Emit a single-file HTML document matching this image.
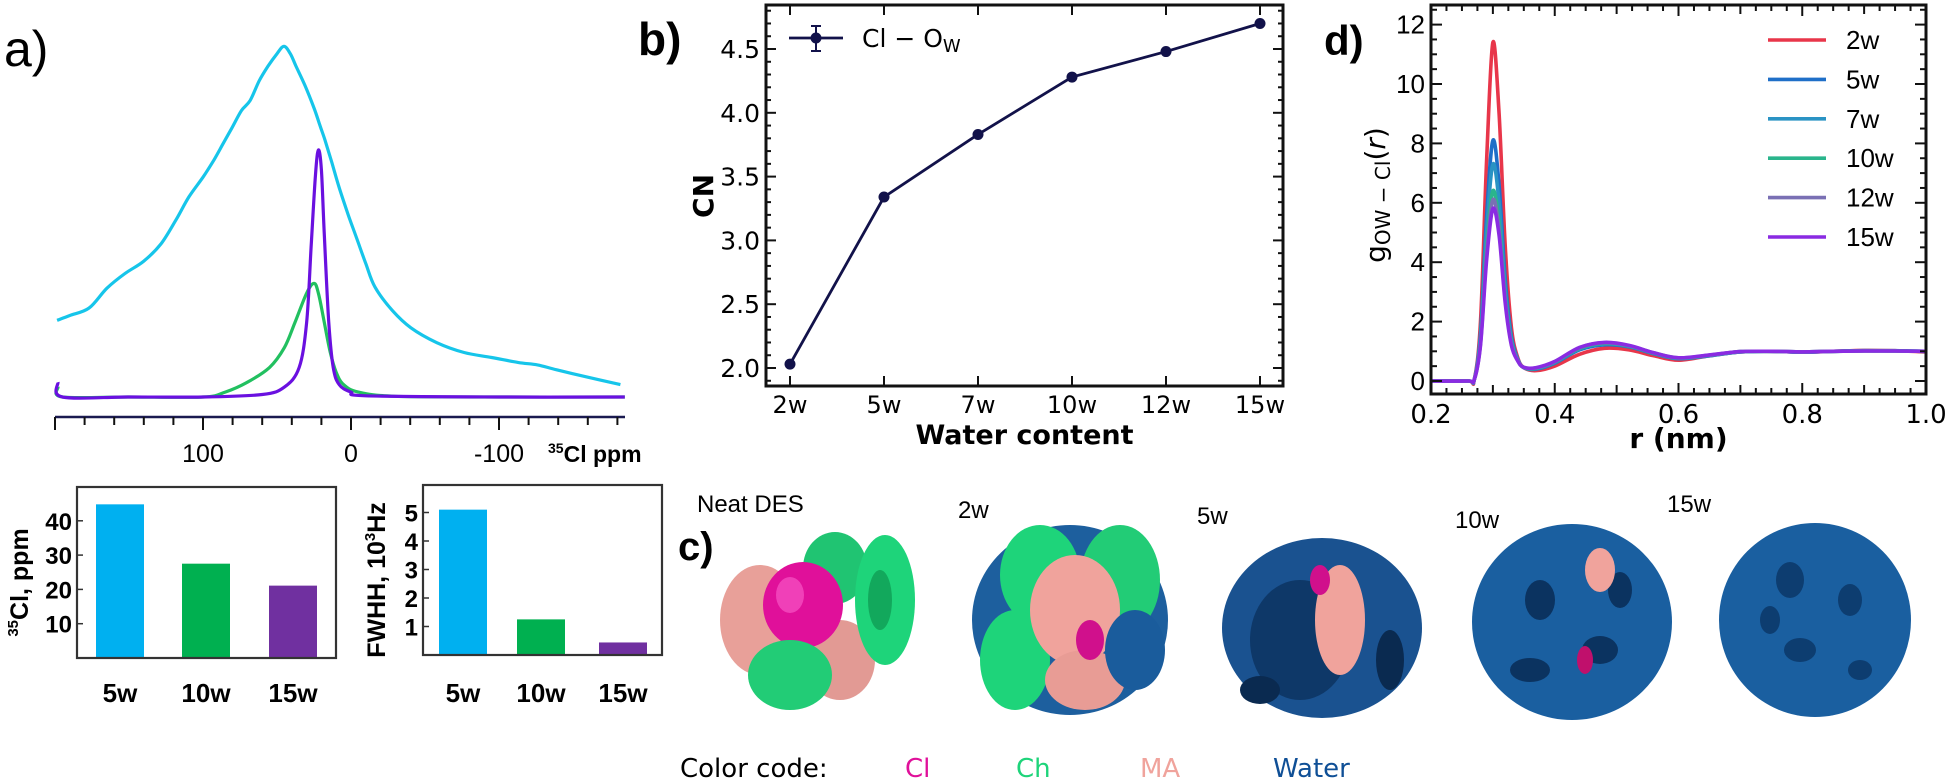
<!DOCTYPE html>
<html><head><meta charset="utf-8">
<style>
html,body{margin:0;padding:0;background:#fff;}
svg{display:block;}
text{font-family:"DejaVu Sans","Liberation Sans",sans-serif;}
.cond{font-family:"Liberation Sans",sans-serif;}
</style></head>
<body>
<svg id="fig" xmlns="http://www.w3.org/2000/svg" width="1949" height="783" viewBox="0 0 1949 783">
  <!-- panel labels -->
  <text x="4" y="66" font-size="50" class="cond">a)</text>
  <text x="638" y="55" font-size="46" font-weight="bold" class="cond">b)</text>
  <text x="1324" y="55" font-size="42" font-weight="bold" class="cond">d)</text>
  <text x="678" y="560" font-size="40" font-weight="bold" class="cond">c)</text>

  <g id="spec"></g>
  <g id="bar1"></g>
  <g id="bar2"></g>
  <g id="cn"></g>
  <g id="rdf"></g>

  <!-- panel c: 3D density snapshots -->
  <g>
    <text x="697" y="512" font-size="24" class="cond">Neat DES</text>
    <text x="958" y="518" font-size="24" class="cond">2w</text>
    <text x="1197" y="524" font-size="24" class="cond">5w</text>
    <text x="1455" y="528" font-size="24" class="cond">10w</text>
    <text x="1667" y="512" font-size="24" class="cond">15w</text>

    <g>
      <ellipse cx="760" cy="620" rx="40" ry="55" fill="#e8a099"/>
      <ellipse cx="840" cy="660" rx="35" ry="40" fill="#e29a94"/>
      <ellipse cx="835" cy="568" rx="32" ry="36" fill="#20c472"/>
      <ellipse cx="885" cy="600" rx="30" ry="65" fill="#1ed47a"/>
      <ellipse cx="880" cy="600" rx="12" ry="30" fill="#12a85c"/>
      <ellipse cx="803" cy="605" rx="40" ry="43" fill="#e0109a"/>
      <ellipse cx="790" cy="595" rx="14" ry="18" fill="#f040b8"/>
      <ellipse cx="790" cy="675" rx="42" ry="35" fill="#22cc76"/>
    </g>
    <g>
      <ellipse cx="1070" cy="620" rx="98" ry="95" fill="#1d5f9e"/>
      <ellipse cx="1040" cy="575" rx="40" ry="50" fill="#1ed47a"/>
      <ellipse cx="1120" cy="580" rx="40" ry="55" fill="#22cc76"/>
      <ellipse cx="1015" cy="660" rx="35" ry="50" fill="#1ed47a"/>
      <ellipse cx="1075" cy="610" rx="45" ry="55" fill="#f0a39c"/>
      <ellipse cx="1085" cy="680" rx="40" ry="30" fill="#e89c95"/>
      <ellipse cx="1090" cy="640" rx="14" ry="20" fill="#d0108c"/>
      <ellipse cx="1135" cy="650" rx="30" ry="40" fill="#1a5c9c"/>
    </g>
    <g>
      <ellipse cx="1322" cy="628" rx="100" ry="90" fill="#1a5290"/>
      <ellipse cx="1300" cy="640" rx="50" ry="60" fill="#0e3868"/>
      <ellipse cx="1340" cy="620" rx="25" ry="55" fill="#f0a39c"/>
      <ellipse cx="1320" cy="580" rx="10" ry="15" fill="#d0108c"/>
      <ellipse cx="1260" cy="690" rx="20" ry="14" fill="#0a2a50"/>
      <ellipse cx="1390" cy="660" rx="14" ry="30" fill="#0a2a50"/>
    </g>
    <g>
      <ellipse cx="1572" cy="622" rx="100" ry="98" fill="#1a5fa0"/>
      <ellipse cx="1540" cy="600" rx="15" ry="20" fill="#0b3360"/>
      <ellipse cx="1600" cy="650" rx="18" ry="14" fill="#0b3360"/>
      <ellipse cx="1530" cy="670" rx="20" ry="12" fill="#0b3360"/>
      <ellipse cx="1620" cy="590" rx="12" ry="18" fill="#0b3360"/>
      <ellipse cx="1600" cy="570" rx="15" ry="22" fill="#f0a39c"/>
      <ellipse cx="1585" cy="660" rx="8" ry="14" fill="#c0106c"/>
    </g>
    <g>
      <ellipse cx="1815" cy="620" rx="96" ry="97" fill="#1a5fa0"/>
      <ellipse cx="1790" cy="580" rx="14" ry="18" fill="#0d3d70"/>
      <ellipse cx="1850" cy="600" rx="12" ry="16" fill="#0d3d70"/>
      <ellipse cx="1800" cy="650" rx="16" ry="12" fill="#0d3d70"/>
      <ellipse cx="1860" cy="670" rx="12" ry="10" fill="#0d3d70"/>
      <ellipse cx="1770" cy="620" rx="10" ry="14" fill="#0d3d70"/>
    </g>
    <text x="680" y="777" font-size="26">Color code:</text>
    <text x="905" y="777" font-size="26" fill="#e0109a">Cl</text>
    <text x="1016" y="777" font-size="26" fill="#1ed47a">Ch</text>
    <text x="1140" y="777" font-size="26" fill="#f0a39c">MA</text>
    <text x="1273" y="777" font-size="26" fill="#0f4f96">Water</text>
  </g>
</svg>

<script>
// ---------- DATA ----------
// Panel a: 35Cl NMR spectrum (ppm, arbitrary intensity)
const specPpm5w = [198.6,190,177,165,152.7,140,128.4,118,109.5,100,92.6,86,80.4,74,68.2,62,56,50,45.3,41,37.2,31,25,21,17.6,13,8.1,2,-4,-10,-16.2,-28,-40.5,-58,-76.4,-95,-112.8,-126,-139,-160,-182];
const specInt5w = [31,33,36,44,50,55,62,72,81,89,96,103,109,116,120,128,134,139,142,139,134,126,117,110,104,95,85,74,64,54,44.5,35,28,22,18,16,14,13,11,8,5];
const specPpm10w = [198,195,150,100,85,70,55,45,38,30,25,22,18,14,10,5,-5,-30,-100,-185];
const specInt10w = [4,0,0,0,2,6,12,20,30,42,46,42,30,18,10,5,2,0.3,0,0];
const specPpm15w = [198,195,150,100,60,45,35,30,27,24,22,20,18,15,12,8,0,-10,-100,-185];
const specInt15w = [6,0,0,0,1,4,12,30,60,90,100,92,65,30,12,5,2,0.5,0,0];
const specTicksMajor = [200,100,0,-100];
const specTickLabels = ["","100","0","-100"];

// Bar charts
const barCats = ["5w","10w","15w"];
const shiftVals = [44.8,27.5,21.1];
const shiftTicks = [10,20,30,40];
const fwhhVals = [5.1,1.25,0.44];
const fwhhTicks = [1,2,3,4,5];
const barColors = ["#00b0f0","#00b050","#7030a0"];

// Panel b: coordination number
const cnCats = ["2w","5w","7w","10w","12w","15w"];
const cnVals = [2.03,3.34,3.83,4.28,4.48,4.70];
const cnErr = [0.02,0.03,0.015,0.015,0.015,0.02];
const cnTicks = [2.0,2.5,3.0,3.5,4.0,4.5];

// Panel d: RDF
const rdfR = [0.2,0.26,0.27,0.28,0.29,0.30,0.31,0.32,0.33,0.34,0.35,0.37,0.40,0.44,0.48,0.52,0.56,0.60,0.65,0.70,0.75,0.80,0.85,0.90,0.95,1.0];
const g2w  = [0,0,0.05,2.0,7.5,11.4,9.0,4.5,1.8,0.8,0.45,0.35,0.5,0.9,1.1,1.05,0.85,0.7,0.85,0.98,1.0,0.97,1.0,1.03,1.02,0.98];
const g5w  = [0,0,0.05,1.6,5.6,8.1,6.6,3.4,1.5,0.75,0.45,0.4,0.6,1.05,1.22,1.15,0.92,0.75,0.85,0.98,1.0,0.97,1.0,1.02,1.02,1.0];
const g7w  = [0,0,0.05,1.5,5.1,7.3,6.0,3.1,1.4,0.72,0.45,0.42,0.62,1.08,1.25,1.17,0.93,0.76,0.86,0.98,1.0,0.97,1.0,1.02,1.01,1.0];
const g10w = [0,0,0.05,1.3,4.5,6.4,5.3,2.8,1.3,0.7,0.45,0.43,0.64,1.1,1.27,1.18,0.94,0.77,0.87,0.99,1.0,0.98,1.0,1.01,1.01,1.0];
const g12w = [0,0,0.05,1.25,4.3,6.1,5.1,2.7,1.25,0.7,0.46,0.44,0.65,1.12,1.29,1.19,0.95,0.78,0.87,0.99,1.0,0.98,1.0,1.01,1.01,1.0];
const g15w = [0,0,0.05,1.2,4.1,5.8,4.9,2.6,1.2,0.68,0.46,0.45,0.66,1.13,1.3,1.2,0.95,0.78,0.88,0.99,1.0,0.98,1.0,1.01,1.01,1.0];
const rdfNames = ["2w","5w","7w","10w","12w","15w"];
const rdfXTicks = [0.2,0.4,0.6,0.8,1.0];
const rdfYTicks = [0,2,4,6,8,10,12];

// ---------- helpers ----------
const NS = "http://www.w3.org/2000/svg";
function el(tag, parent, attrs){
  const e = document.createElementNS(NS, tag);
  for (const k in attrs) e.setAttribute(k, attrs[k]);
  parent.appendChild(e);
  return e;
}
function smoothPath(pts){
  let d = "M" + pts[0][0].toFixed(1) + "," + pts[0][1].toFixed(1);
  for (let i = 0; i < pts.length - 1; i++){
    const p0 = pts[Math.max(i-1,0)], p1 = pts[i], p2 = pts[i+1], p3 = pts[Math.min(i+2,pts.length-1)];
    const c1 = [p1[0]+(p2[0]-p0[0])/6, p1[1]+(p2[1]-p0[1])/6];
    const c2 = [p2[0]-(p3[0]-p1[0])/6, p2[1]-(p3[1]-p1[1])/6];
    d += " C" + c1[0].toFixed(1)+","+c1[1].toFixed(1)+" "+c2[0].toFixed(1)+","+c2[1].toFixed(1)+" "+p2[0].toFixed(1)+","+p2[1].toFixed(1);
  }
  return d;
}

// ---------- Panel a spectrum ----------
(function(){
  const g = document.getElementById("spec");
  const xS = p => 55 + (200 - p) * 1.48;
  const yS = v => 397 - v * 2.47;
  const ax = el("line", g, {x1:55, x2:625, y1:417, y2:417, stroke:"#1a1a50", "stroke-width":2.5});
  
  
  for (let p = 200; p >= -180; p -= 20){
    const major = specTicksMajor.indexOf(p) >= 0;
    const t = el("line", g, {x1:xS(p), x2:xS(p), y1:417, y2:417 + (major ? 13 : 8), stroke:"#111", "stroke-width":2});
    
    
  }
  specTicksMajor.forEach((p, i) => {
    if (!specTickLabels[i]) return;
    const t = el("text", g, {x:xS(p), y:462, "font-size":25, "text-anchor":"middle", "class":"cond"});
    t.textContent = specTickLabels[i];
    
    
  });
  const lab = el("text", g, {x:548, y:462, "font-size":23, "font-weight":"bold", "class":"cond"});
  lab.innerHTML = '<tspan font-size="14" dy="-9">35</tspan><tspan dy="9">Cl ppm</tspan>';
  
  
  const series = [[specPpm5w, specInt5w, "#16c5ea", "spectrum-5w"],[specPpm10w, specInt10w, "#22c060", "spectrum-10w"],[specPpm15w, specInt15w, "#6a10e0", "spectrum-15w"]];
  series.forEach(s => {
    const pts = s[0].map((p, i) => [xS(p), yS(s[1][i])]);
    const path = el("path", g, {d:smoothPath(pts), fill:"none", stroke:s[2], "stroke-width":3.2, "stroke-linejoin":"round"});
    
    
  });
})();

// ---------- bar charts ----------
function barChart(id, frame, vals, ticks, unitPx, centers, ylabelHtml, nameBase){
  const g = document.getElementById(id);
  const y0 = frame.y2;
  const yS = v => y0 - v * unitPx;
  vals.forEach((v, i) => {
    const b = el("rect", g, {x:centers[i]-24, y:yS(v), width:48, height:y0 - yS(v), fill:barColors[i]});
    
    
    const t = el("text", g, {x:centers[i], y:702, "font-size":26, "font-weight":"bold", "text-anchor":"middle", "class":"cond"});
    t.textContent = barCats[i];
    
    
  });
  const f = el("rect", g, {x:frame.x1, y:frame.y1, width:frame.x2-frame.x1, height:frame.y2-frame.y1, fill:"none", stroke:"#333", "stroke-width":2.2});
  
  
  ticks.forEach(v => {
    const tk = el("line", g, {x1:frame.x1, x2:frame.x1+6, y1:yS(v), y2:yS(v), stroke:"#333", "stroke-width":1.5});
    
    
    const t = el("text", g, {x:frame.x1-5, y:yS(v)+9, "font-size":24, "font-weight":"bold", "text-anchor":"end", "class":"cond"});
    t.textContent = v;
    
    
  });
  const yl = el("text", g, {x:0, y:0, "font-size":25, "font-weight":"bold", "text-anchor":"middle", "class":"cond", transform:"translate(" + frame.labX + "," + ((frame.y1+frame.y2)/2+10) + ") rotate(-90)"});
  yl.innerHTML = ylabelHtml;
  
  
}
barChart("bar1", {x1:77, x2:336, y1:487, y2:658, labX:28}, shiftVals, shiftTicks, 3.43, [120,206,293],
  '<tspan font-size="15" dy="-10">35</tspan><tspan dy="10">Cl, ppm</tspan>', 'shift');
barChart("bar2", {x1:423, x2:662, y1:485, y2:655, labX:385}, fwhhVals, fwhhTicks, 28.5, [463,541,623],
  'FWHH, 10<tspan font-size="15" dy="-10">3</tspan><tspan dy="10">Hz</tspan>', 'fwhh');

// ---------- Panel b ----------
(function(){
  const g = document.getElementById("cn");
  const L = 766, R = 1283, T = 5, B = 386;
  const xS = i => 790 + i * 94;
  const yS = v => 368 - (v - 2.0) * 127.6;
  for (let v = 1.9; v <= 4.85; v += 0.1){
    const vv = Math.round(v*10)/10;
    const major = Math.abs(vv*2 - Math.round(vv*2)) < 1e-6;
    const len = major ? 10 : 5;
    [[L, L+len],[R, R-len]].forEach(p => {
      const t = el("line", g, {x1:p[0], x2:p[1], y1:yS(vv), y2:yS(vv), stroke:"#111", "stroke-width":2});
      
      
    });
  }
  cnTicks.forEach(v => {
    const t = el("text", g, {x:L-6, y:yS(v)+9, "font-size":25, "text-anchor":"end"});
    t.textContent = v.toFixed(1);
    
    
  });
  cnCats.forEach((c, i) => {
    [[B, B-10],[T, T+10]].forEach(p => {
      const t = el("line", g, {x1:xS(i), x2:xS(i), y1:p[0], y2:p[1], stroke:"#111", "stroke-width":2});
      
      
    });
    const t = el("text", g, {x:xS(i), y:413, "font-size":24, "text-anchor":"middle"});
    t.textContent = c;
    
    
  });
  const fr = el("rect", g, {x:L, y:T, width:R-L, height:B-T, fill:"none", stroke:"#111", "stroke-width":3});
  
  
  const xt = el("text", g, {x:(L+R)/2, y:444, "font-size":27, "font-weight":"bold", "text-anchor":"middle"});
  xt.textContent = "Water content";
  
  
  const yt = el("text", g, {x:0, y:0, "font-size":28, "font-weight":"bold", "text-anchor":"middle", transform:"translate(713,196) rotate(-90)"});
  yt.textContent = "CN";
  
  
  const pl = el("polyline", g, {points:cnVals.map((v,i)=>xS(i)+","+yS(v)).join(" "), fill:"none", stroke:"#12124a", "stroke-width":2.8});
  
  
  cnVals.forEach((v, i) => {
    const eb = el("line", g, {x1:xS(i), x2:xS(i), y1:yS(v+cnErr[i]), y2:yS(v-cnErr[i]), stroke:"#12124a", "stroke-width":2});
    
    
    const c = el("circle", g, {cx:xS(i), cy:yS(v), r:5.5, fill:"#12124a"});
    
    
  });
  // legend
  const lg = el("g", g, {});
  
  
  el("line", lg, {x1:789, x2:843, y1:38, y2:38, stroke:"#12124a", "stroke-width":2.8});
  el("line", lg, {x1:816, x2:816, y1:26, y2:51, stroke:"#12124a", "stroke-width":2});
  el("line", lg, {x1:811, x2:821, y1:26, y2:26, stroke:"#12124a", "stroke-width":2});
  el("line", lg, {x1:811, x2:821, y1:51, y2:51, stroke:"#12124a", "stroke-width":2});
  el("circle", lg, {cx:816, cy:38, r:5.5, fill:"#12124a"});
  const lt = el("text", lg, {x:862, y:47, "font-size":25});
  lt.innerHTML = 'Cl − O<tspan font-size="18" dy="5">W</tspan>';
  
  
})();

// ---------- Panel d ----------
(function(){
  const g = document.getElementById("rdf");
  const L = 1431, R = 1926, T = 5, B = 394;
  const xS = r => L + (r - 0.2) / 0.8 * (R - L);
  const yS = v => 381 - v * 29.7;
  const colors = ["#e8364a","#1f6fc8","#2a93c4","#2ab58c","#7a70b4","#8a2be2"];
  const series = [g2w, g5w, g7w, g10w, g12w, g15w];
  series.forEach((s, k) => {
    const pts = rdfR.map((r, i) => [xS(r), yS(s[i])]);
    const p = el("path", g, {d:smoothPath(pts), fill:"none", stroke:colors[k], "stroke-width":3.6, "stroke-linejoin":"round"});
    
    
  });
  for (let i = 0; i <= 32; i++){
    const r = 0.2 + i * 0.025;
    const major = i % 8 === 0;
    const len = major ? 11 : (i % 4 === 0 ? 9 : 6);
    [[B, B-len],[T, T+len]].forEach(pp => {
      const t = el("line", g, {x1:xS(r), x2:xS(r), y1:pp[0], y2:pp[1], stroke:"#111", "stroke-width":2});
      
      
    });
  }
  rdfXTicks.forEach(r => {
    const t = el("text", g, {x:xS(r), y:423, "font-size":26, "text-anchor":"middle"});
    t.textContent = r.toFixed(1);
    
    
  });
  for (let v = 0; v <= 12.5; v += 0.5){
    const major = v % 2 === 0;
    const len = major ? 11 : 6;
    [[L, L+len],[R, R-len]].forEach(pp => {
      const t = el("line", g, {x1:pp[0], x2:pp[1], y1:yS(v), y2:yS(v), stroke:"#111", "stroke-width":2});
      
      
    });
  }
  rdfYTicks.forEach(v => {
    const t = el("text", g, {x:L-6, y:yS(v)+9, "font-size":26, "text-anchor":"end", "class":"cond"});
    t.textContent = v;
    
    
  });
  const fr = el("rect", g, {x:L, y:T, width:R-L, height:B-T, fill:"none", stroke:"#111", "stroke-width":3});
  
  
  const xt = el("text", g, {x:(L+R)/2, y:448, "font-size":28, "font-weight":"bold", "text-anchor":"middle"});
  xt.textContent = "r (nm)";
  
  
  const yt = el("text", g, {x:0, y:0, "font-size":28, "text-anchor":"middle", transform:"translate(1385,195) rotate(-90)"});
  yt.innerHTML = 'g<tspan font-size="20" dy="5">OW − Cl</tspan><tspan dy="-5">(</tspan><tspan font-style="italic">r</tspan>)';
  
  
  rdfNames.forEach((n, k) => {
    const y = 40 + k * 39.4;
    const ln = el("line", g, {x1:1768, x2:1826, y1:y, y2:y, stroke:colors[k], "stroke-width":3.6});
    
    
    const t = el("text", g, {x:1846, y:y+9, "font-size":26, "class":"cond"});
    t.textContent = n;
    
    
  });
})();
</script>
</body></html>
